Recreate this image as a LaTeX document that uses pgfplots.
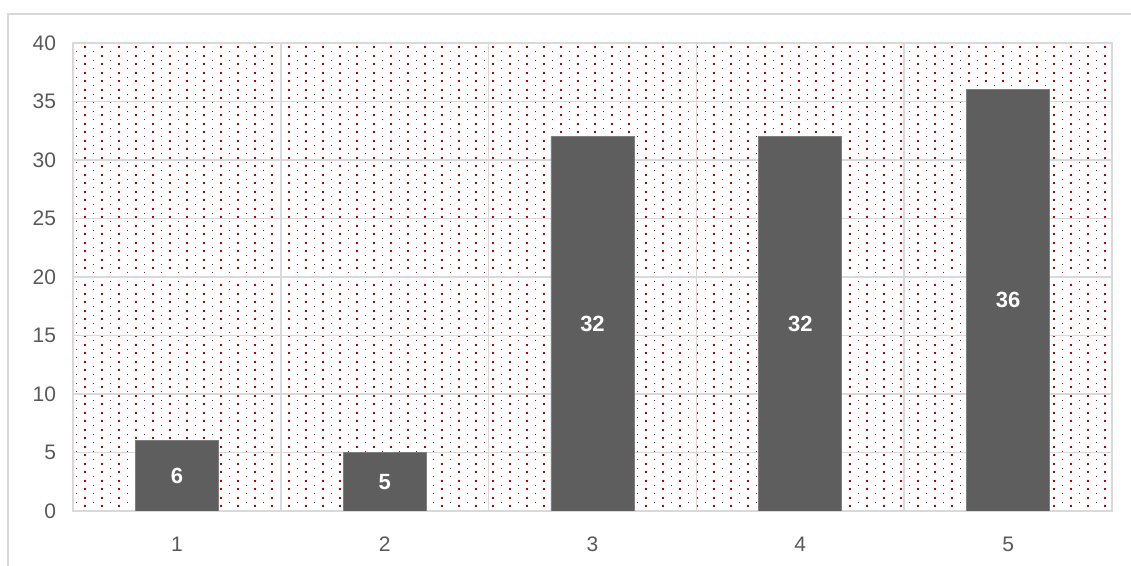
\documentclass[border=0pt]{standalone}
\usepackage{pgfplots}
\pgfplotsset{compat=1.18}
\usepackage{fontspec}
\setmainfont{Liberation Sans}
\usetikzlibrary{patterns}

\definecolor{bargray}{HTML}{5E5E5E}
\definecolor{gridgray}{HTML}{D9D9D9}
\definecolor{ticktext}{HTML}{595959}
\definecolor{dotred}{HTML}{C00000}

% sparse red dot fill for the plot area: a large dot and a small offset dot per tile
\pgfdeclarepatterninherentlycolored{reddots}{\pgfqpoint{-1pt}{-1pt}}{\pgfqpoint{9.5pt}{5.25pt}}{\pgfqpoint{8.5pt}{4.25pt}}{%
  \pgfsetfillcolor{dotred}%
  \pgfpathrectangle{\pgfqpoint{-0.5pt}{-0.5pt}}{\pgfqpoint{1pt}{1pt}}%
  \pgfusepath{fill}%
  \pgfpathrectangle{\pgfqpoint{3.95pt}{1.82pt}}{\pgfqpoint{0.6pt}{0.6pt}}%
  \pgfusepath{fill}%
}

\begin{document}
\begin{tikzpicture}
\useasboundingbox (-36.5pt,-27.5pt) rectangle (529pt,255.5pt);
\begin{axis}[
  scale only axis,
  width=519.5pt, height=234pt,
  xmin=0.5, xmax=5.5,
  ymin=0, ymax=40,
  xtick={1,2,3,4,5},
  minor xtick={1.5,2.5,3.5,4.5},
  ytick={0,5,...,40},
  ymajorgrids, xminorgrids,
  grid style={gridgray, line width=0.75pt},
  minor grid style={gridgray, line width=0.75pt},
  axis line style={gridgray, line width=0.9pt},
  major tick length=0pt, minor tick length=0pt,
  tick style={draw=none},
  tick label style={font=\fontsize{10.5}{12}\selectfont, text=ticktext},
  /pgf/number format/assume math mode=true,
  xticklabel style={yshift=-9.5pt},
  yticklabel style={xshift=-5pt},
  axis background/.style={pattern=reddots},
]
\addplot[ybar, bar width=41.5pt, fill=bargray, draw=bargray!80!white, line width=0.4pt]
  coordinates {(1,6) (2,5) (3,32) (4,32) (5,36)};
% value labels at mid-height of each bar
\addplot[only marks, mark=none, nodes near coords, point meta=explicit symbolic,
  nodes near coords style={anchor=center, text=white, font=\fontsize{11}{13}\selectfont\bfseries}]
  coordinates {(1,3)[6] (2,2.5)[5] (3,16)[32] (4,16)[32] (5,18)[36]};
\end{axis}
% chart frame
\draw[gridgray, line width=0.9pt] (-32.5pt,-40pt) -- (-32.5pt,248.5pt) -- (560pt,248.5pt);
\end{tikzpicture}
\end{document}
